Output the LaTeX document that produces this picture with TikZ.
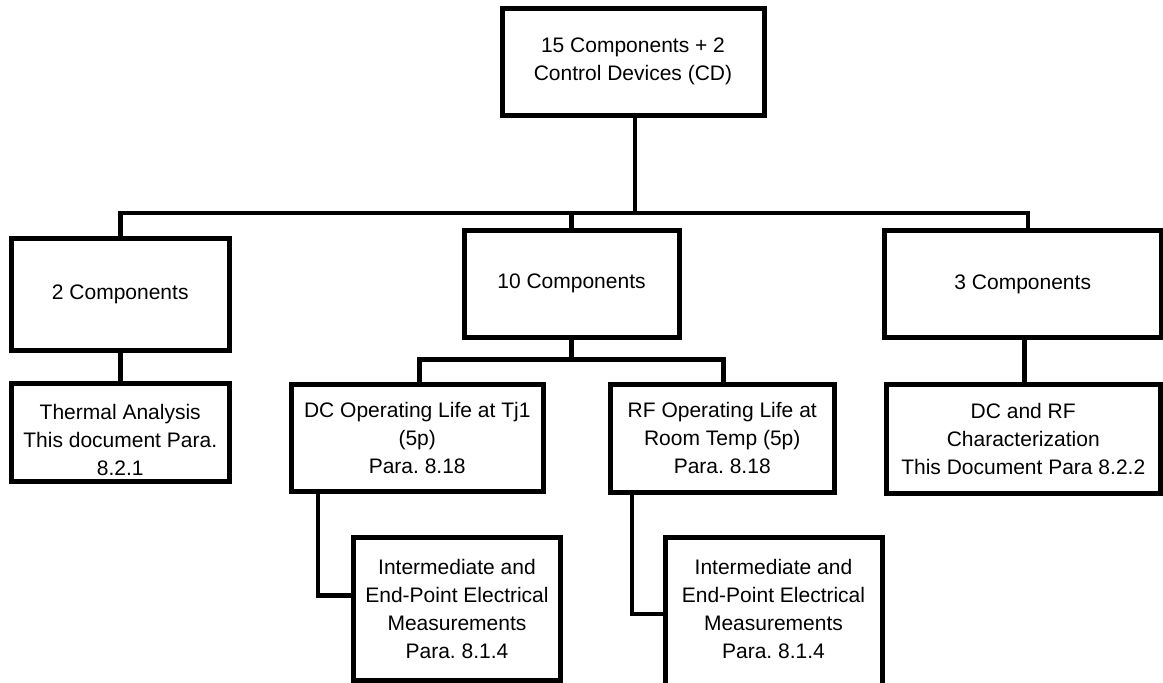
\documentclass[tikz,border=0pt]{standalone}
\usepackage{fontspec}
\setmainfont{Liberation Sans}
\frenchspacing
\begin{document}
\begin{tikzpicture}[x=1pt,y=-1pt,
  box/.style={draw=black, line width=5pt, inner sep=0pt, align=center,
    font=\fontsize{21}{28}\selectfont\frenchspacing},
  txt/.style={inner sep=0pt, align=center, font=\fontsize{21}{28}\selectfont\frenchspacing},
  conn/.style={draw=black, line width=4.6pt}]
\clip (0,0) rectangle (1163,683);
\fill[white] (0,0) rectangle (1163,683);
% boxes
\node[box, minimum width=262, minimum height=107] (top) at (633,61.5) {15 Components + 2\\Control Devices (CD)};
\node[box, minimum width=217.5, minimum height=112.5] (c2) at (120.25,294.25) {2 Components};
\node[box, minimum width=217.5, minimum height=98] (th) at (120.25,432) {};
\node[txt] (thT) at (120.25,440) {Thermal Analysis\\This document Para.\\8.2.1};
\node[box, minimum width=215, minimum height=107] (c10) at (571.5,283.5) {10 Components};
\node[box, minimum width=252.5, minimum height=107] (dc) at (417.25,437.5) {DC Operating Life at Tj1\\(5p)\\Para. 8.18};
\node[box, minimum width=223.5, minimum height=108] (rf) at (722.25,438) {RF Operating Life at\\Room Temp (5p)\\Para. 8.18};
\node[box, minimum width=276.5, minimum height=107] (c3) at (1022.75,284) {3 Components};
\node[box, minimum width=273.5, minimum height=108.5] (dcrf) at (1023.25,438.75) {DC and RF\\Characterization\\This Document Para 8.2.2};
\node[box, minimum width=207, minimum height=143] (idc) at (457,609) {Intermediate and\\End-Point Electrical\\Measurements\\Para. 8.1.4};
\node[box, minimum width=217, minimum height=165] (irf) at (773.5,620) {};
\node[txt] (irfT) at (773.5,608.5) {Intermediate and\\End-Point Electrical\\Measurements\\Para. 8.1.4};
% connectors
\coordinate (bus) at (635,213);
\coordinate (sub) at (571.5,359.5);
\draw[conn] ([xshift=2]top.south) -- (bus);
\draw[conn] (c2.north) |- (bus) -| ([xshift=5.25]c3.north);
\draw[conn] (c10.north) -- (c10.north |- bus);
\draw[conn] (c2.south) -- (th.north);
\draw[conn] (c10.south) -- (sub);
\draw[conn] ([xshift=2.25]dc.north) |- (sub) -| ([xshift=1.25]rf.north);
\draw[conn] ([xshift=1.75]c3.south) -- ([xshift=1.25]dcrf.north);
\draw[conn] ([xshift=-99.25]dc.south) |- ([yshift=13.5]idc.west);
\draw[conn] ([xshift=-90.25]rf.south) |- ([yshift=6]irf.west);
\end{tikzpicture}
\end{document}
